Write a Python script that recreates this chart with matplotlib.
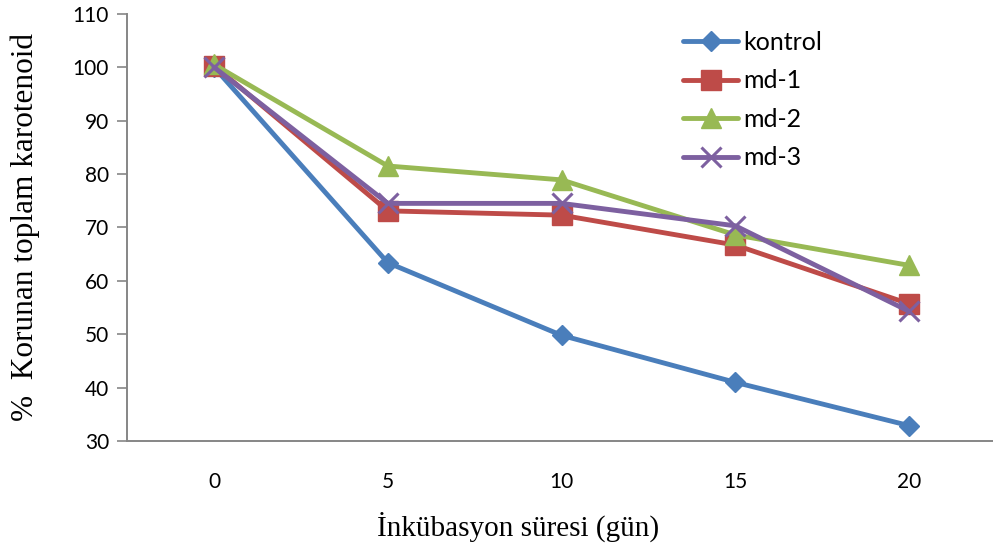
import numpy as np
import matplotlib.pyplot as plt

gun = ["0", "5", "10", "15", "20"]
kontrol = [100.0, 63.4, 49.8, 41.0, 32.9]
md1 = [100.3, 73.1, 72.3, 66.7, 55.7]
md2 = [100.5, 81.5, 78.9, 68.6, 62.9]
md3 = [100.0, 74.5, 74.5, 70.3, 54.3]

seriler = [
    ("kontrol", kontrol, "#4A7EBB", "D", 10.5),
    ("md-1", md1, "#BE4B48", "s", 14),
    ("md-2", md2, "#98B954", "^", 14),
    ("md-3", md3, "#7D60A0", "x", 14),
]

fig = plt.figure(figsize=(9.93, 5.5), dpi=100)
ax = fig.add_axes([0.128, 0.198, 0.875, 0.777])

x = np.arange(len(gun))
for ad, y, renk, mk, ms in seriler:
    ax.plot(x, y, color=renk, lw=3.5, marker=mk, ms=ms, mew=2.2 if mk == "x" else 1,
            mec=renk, mfc=renk, label=ad, solid_joinstyle="round", solid_capstyle="round")

ax.set_xlim(-0.5, 4.5)
ax.set_ylim(30, 110)
ax.set_yticks(range(30, 111, 10))
ax.set_xticks(x)
ax.set_xticklabels(gun)

tick_font = "Lato"
for lab in ax.get_xticklabels() + ax.get_yticklabels():
    lab.set_fontfamily(tick_font)
    lab.set_fontsize(15)

ax.tick_params(axis="y", direction="out", length=7, width=1.2, color="#868686", pad=6)
ax.tick_params(axis="x", length=0, pad=22)

for s in ["top", "right"]:
    ax.spines[s].set_visible(False)
for s in ["left", "bottom"]:
    ax.spines[s].set_color("#868686")
    ax.spines[s].set_linewidth(1.4)

ax.set_ylabel("%  Korunan toplam karotenoid", family="Liberation Serif", fontsize=22.5)
ax.yaxis.set_label_coords(-0.1, 0.5)
ax.set_xlabel("İnkübasyon süresi (gün)", family="Liberation Serif", fontsize=21)
ax.xaxis.set_label_coords(0.45, -0.165)

leg = ax.legend(loc="upper left", bbox_to_anchor=(0.678, 0.962), bbox_transform=fig.transFigure,
                borderaxespad=0, frameon=False,
                prop={"family": tick_font, "size": 18}, handlelength=2.2,
                handletextpad=0.2, labelspacing=0.62)

fig.savefig("out.png", dpi=100)
